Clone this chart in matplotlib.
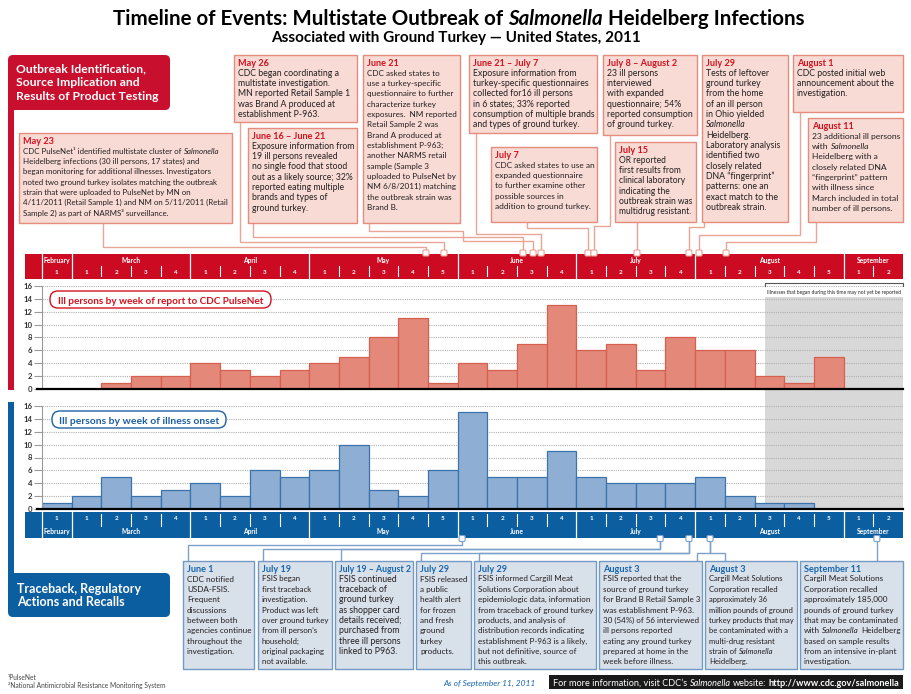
import matplotlib.pyplot as plt
from matplotlib.patches import Rectangle, FancyBboxPatch

W, H = 912, 694
BODY = ['Liberation Sans Narrow', 'Lato', 'DejaVu Sans']
HEAD = ['Lato', 'DejaVu Sans']
plt.rcParams['font.family'] = BODY

# ---- data -------------------------------------------------------------
months = ['February', 'March', 'April', 'May', 'June', 'July', 'August', 'September']
month_weeks = [1, 4, 4, 5, 4, 4, 5, 2]
reported = [0, 0, 1, 2, 2, 4, 3, 2, 3, 4, 5, 8, 11, 1, 4, 3, 7, 13, 6, 7, 3, 8, 6, 6, 2, 1, 5, 0, 0]
onset = [1, 2, 5, 2, 3, 4, 2, 6, 5, 6, 10, 3, 2, 6, 15, 5, 5, 9, 5, 4, 4, 4, 5, 2, 1, 1, 0, 0, 0]
unreported_from = 24.35  # week position where late reports start
y_ticks = list(range(0, 17, 2))

top_dates = ['May 23', 'May 26', 'June 16 – June 21', 'June 21', 'June 21 – July 7', 'July 7',
             'July 8 – August 2', 'July 15', 'July 29', 'August 1', 'August 11']
top_weeks = [12.93, 13.54, 16.20, 16.54, 16.81, 18.39, 18.59, 20.04, 21.79, 22.13, 23.04]
top_texts = [
    ['CDC PulseNet¹ identified multistate cluster of *Salmonella*',
     'Heidelberg infections (30 ill persons, 17 states) and',
     'began monitoring for additional illnesses. Investigators',
     'noted two ground turkey isolates matching the outbreak',
     'strain that were uploaded to PulseNet by MN on',
     '4/11/2011 (Retail Sample 1) and NM on 5/11/2011 (Retail',
     'Sample 2) as part of NARMS² surveillance.'],
    ['CDC began coordinating a', 'multistate investigation.', 'MN reported Retail Sample 1',
     'was Brand A produced at', 'establishment P-963.'],
    ['Exposure information from', '19 ill persons revealed', 'no single food that stood',
     'out as a likely source; 32%', 'reported eating multiple', 'brands and types of', 'ground turkey.'],
    ['CDC asked states to', 'use a turkey-specific', 'questionnaire to further', 'characterize turkey',
     'exposures.  NM reported', 'Retail Sample 2 was', 'Brand A produced at', 'establishment P-963;',
     'another NARMS retail', 'sample (Sample 3', 'uploaded to PulseNet by', 'NM 6/8/2011) matching',
     'the outbreak strain was', 'Brand B.'],
    ['Exposure information from', 'turkey-specific questionnaires', 'collected for16 ill persons',
     'in 6 states; 33% reported', 'consumption of multiple brands', 'and types of ground turkey.'],
    ['CDC asked states to use an', 'expanded questionnaire', 'to further examine other',
     'possible sources in', 'addition to ground turkey.'],
    ['23 ill persons', 'interviewed', 'with expanded', 'questionnaire; 54%', 'reported consumption',
     'of ground turkey.'],
    ['OR reported', 'first results from', 'clinical laboratory', 'indicating the',
     'outbreak strain was', 'multidrug resistant.'],
    ['Tests of leftover', 'ground turkey', 'from the home', 'of an ill person', 'in Ohio yielded',
     '*Salmonella*', 'Heidelberg.', 'Laboratory analysis', 'identified two', 'closely related',
     'DNA “fingerprint”', 'patterns: one an', 'exact match to the', 'outbreak strain.'],
    ['CDC posted initial web', 'announcement about the', 'investigation.'],
    ['23 additional ill persons', 'with *Salmonella*', 'Heidelberg with a', 'closely related DNA',
     '“fingerprint” pattern', 'with illness since', 'March included in total', 'number of ill persons.'],
]

bottom_dates = ['June 1', 'July 19', 'July 19 – August 2', 'July 29', 'July 29', 'August 3',
                'August 3', 'September 11']
bottom_weeks = [14.15, 20.82, 20.82, 21.79, 21.79, 22.50, 22.50, 28.12]
bottom_texts = [
    ['CDC notified', 'USDA-FSIS.', 'Frequent', 'discussions', 'between both', 'agencies continue',
     'throughout the', 'investigation.'],
    ['FSIS began', 'first traceback', 'investigation.', 'Product was left', 'over ground turkey',
     'from ill person’s', 'household;', 'original packaging', 'not available.'],
    ['FSIS continued', 'traceback of', 'ground turkey', 'as shopper card', 'details received;',
     'purchased from', 'three ill persons', 'linked to P963.'],
    ['FSIS released', 'a public', 'health alert', 'for frozen', 'and fresh', 'ground', 'turkey',
     'products.'],
    ['FSIS informed Cargill Meat', 'Solutions Corporation about', 'epidemiologic data, information',
     'from traceback of ground turkey', 'products, and analysis of', 'distribution records indicating',
     'establishment P-963 is a likely,', 'but not definitive, source of', 'this outbreak.'],
    ['FSIS reported that the', 'source of ground turkey', 'for Brand B Retail Sample 3',
     'was establishment P-963.', '30 (54%) of 56 interviewed', 'ill persons reported',
     'eating any ground turkey', 'prepared at home in the', 'week before illness.'],
    ['Cargill Meat Solutions', 'Corporation recalled', 'approximately 36', 'million pounds of ground',
     'turkey products that may', 'be contaminated with a', 'multi-drug resistant',
     'strain of *Salmonella*', 'Heidelberg.'],
    ['Cargill Meat Solutions', 'Corporation recalled', 'approximately 185,000',
     'pounds of ground turkey', 'that may be contaminated', 'with *Salmonella* Heidelberg',
     'based on sample results', 'from an intensive in-plant', 'investigation.'],
]

# ---- layout (pixels) --------------------------------------------------
top_boxes = [(19, 133, 232, 223), (234, 55, 357, 122), (248, 128, 357, 223), (363, 55, 460, 223),
             (469, 55, 597, 133), (491, 147, 597, 222), (603, 55, 697, 135), (615, 142, 696, 222),
             (702, 55, 788, 222), (793, 55, 903, 112), (808, 118, 903, 222)]
top_routes = [[(103, 223), (103, 247)], [(240, 122), (240, 242)], [(253, 223), (253, 237)],
              [(369, 223), (369, 231), (463, 231), (463, 241)], [(476, 133), (476, 234)],
              [(527, 222), (527, 228)], [(610, 135), (610, 226)], [(637, 222)],
              [(704, 222), (704, 227)], [(800, 112), (800, 235)], [(816, 222), (816, 242)]]
bottom_boxes = [(183, 561, 254, 669), (258, 561, 332, 669), (335, 561, 413, 669),
                (416, 561, 471, 669), (474, 561, 596, 669), (599, 561, 702, 669),
                (705, 561, 797, 669), (800, 561, 903, 669)]
bottom_routes = [[(188, 561), (188, 545)], [(263, 561), (263, 549)], [(341, 561), (341, 549)],
                 [(421, 561), (421, 553)], [(479, 561), (479, 553)], [(697, 561), (697, 553)],
                 [(725, 561), (725, 553)], [(877, 561)]]

RED = '#C8102E'
PINK, PINK_EDGE, PINK_LINE = '#F8DBD5', '#E58C7C', '#E9A496'
BLUE = '#0B5E9F'
BLUE_FILL, BLUE_EDGE, BLUE_LINE, BLUE_TXT = '#D8E0EA', '#7599C5', '#7DA0CB', '#1766AE'
INK = '#231F20'

X0, X1 = 42, 903
n = len(reported)


def px(w):
    return X0 + w * (X1 - X0) / n


fig = plt.figure(figsize=(W / 100, H / 100), dpi=100)


def full_axes(z):
    a = fig.add_axes([0, 0, 1, 1], zorder=z)
    a.set_xlim(0, W)
    a.set_ylim(H, 0)
    a.axis('off')
    return a


bg = full_axes(0)
R = fig.canvas.get_renderer()

# ---- text helpers -----------------------------------------------------
_cache = {}


def text_w(s, size, fam, italic, bold):
    key = (s, size, tuple(fam), italic, bold)
    if key not in _cache:
        t = bg.text(0, 0, s, fontsize=size, family=fam, style='italic' if italic else 'normal',
                    weight='bold' if bold else 'normal')
        _cache[key] = t.get_window_extent(R).width
        t.remove()
    return _cache[key]


def parse(line, weight):
    out, it, b, buf = [], False, weight == 'bold', ''
    for ch in line:
        if ch in '*^':
            if buf:
                out.append((buf, it, b))
                buf = ''
            if ch == '*':
                it = not it
            else:
                b = not b
        else:
            buf += ch
    if buf:
        out.append((buf, it, b))
    return out


def seg_parts(seg, size, fam, it, b):
    sp = text_w('a a', size, fam, it, b) - text_w('aa', size, fam, it, b)
    lead = len(seg) - len(seg.lstrip(' '))
    trail = len(seg) - len(seg.rstrip(' '))
    core = seg.strip(' ')
    return lead * sp, core, (text_w(core, size, fam, it, b) if core else 0), trail * sp


def measure(line, size, weight='normal', fam=BODY):
    tot = 0
    for seg, it, b in parse(line, weight):
        a, core, w, c = seg_parts(seg, size, fam, it, b)
        tot += a + w + c
    return tot


def draw(ax, x, y, line, size, color, weight='normal', fam=BODY, ha='left'):
    if ha == 'center':
        x -= measure(line, size, weight, fam) / 2
    for seg, it, b in parse(line, weight):
        a, core, w, c = seg_parts(seg, size, fam, it, b)
        x += a
        if core:
            ax.text(x, y, core, fontsize=size, family=fam, color=color, va='baseline',
                    style='italic' if it else 'normal', weight='bold' if b else 'normal')
        x += w + c


def fit(lines, maxw, size, weight='normal', fam=BODY):
    widest = max(measure(l, size, weight, fam) for l in lines)
    return size * maxw / widest if widest > maxw else size


# ---- grey "not yet reported" zone (under the charts) -----------------
bg.add_patch(Rectangle((px(unreported_from), 297), X1 - px(unreported_from), 212,
                       color='#D9D8D8', lw=0))


# ---- bar charts -------------------------------------------------------
def chart(top, bottom, values, face, edge):
    ax = fig.add_axes([X0 / W, 1 - bottom / H, (X1 - X0) / W, (bottom - top) / H], zorder=1)
    ax.patch.set_visible(False)
    ax.bar(range(n), values, width=1, align='edge', color=face, edgecolor=edge, lw=0.9, zorder=2)
    ax.set_xlim(0, n)
    ax.set_ylim(0, 16)
    for s in ['top', 'right', 'bottom']:
        ax.spines[s].set_visible(False)
    ax.spines['left'].set_color('#9A9A9A')
    ax.spines['left'].set_linewidth(0.8)
    ax.set_xticks([])
    ax.set_yticks(y_ticks)
    ax.tick_params(axis='y', length=6, width=0.8, color='#9A9A9A', pad=1, labelsize=5.6,
                   labelcolor='#333333')
    for lab in ax.get_yticklabels():
        lab.set_fontweight('bold')
    ax.grid(axis='y', color='#B0B0B0', lw=0.8, ls=(0, (1, 1)))
    ax.set_axisbelow(True)
    ax.axhline(0, xmin=-5 / (X1 - X0), xmax=1, color='black', lw=1.6, clip_on=False, zorder=5)
    return ax


chart(286, 389, reported, '#E4887A', '#D6604F')
chart(406, 509, onset, '#8EAED3', '#3B74AD')

ov = full_axes(2)

# ---- titles -----------------------------------------------------------
t1 = 'Timeline of Events: Multistate Outbreak of *Salmonella* Heidelberg Infections'
t2 = 'Associated with Ground Turkey — United States, 2011'
draw(ov, 459, 25, t1, fit([t1], 692, 15, 'bold', HEAD), 'black', 'bold', HEAD, 'center')
draw(ov, 456, 42, t2, fit([t2], 373, 11, 'bold', HEAD), 'black', 'bold', HEAD, 'center')

# ---- section headers --------------------------------------------------
ov.add_patch(Rectangle((8, 95), 6, 295, color=RED, lw=0))
ov.add_patch(FancyBboxPatch((8, 55), 162, 55, boxstyle='round,pad=0,rounding_size=5',
                            color=RED, lw=0))
h1 = ['Outbreak Identification,', 'Source Implication and', 'Results of Product Testing']
s = fit(h1, 142, 9, 'bold', HEAD)
for i, l in enumerate(h1):
    draw(ov, 16, 72 + 14 * i, l, s, 'white', 'bold', HEAD)

ov.add_patch(Rectangle((8, 402), 6, 180, color=BLUE, lw=0))
ov.add_patch(FancyBboxPatch((8, 573), 162, 44, boxstyle='round,pad=0,rounding_size=5',
                            color=BLUE, lw=0))
h2 = ['Traceback, Regulatory', 'Actions and Recalls']
s = fit(h2, 125, 9, 'bold', HEAD)
for i, l in enumerate(h2):
    draw(ov, 17, 593 + 12.5 * i, l, s, 'white', 'bold', HEAD)


# ---- timeline strips --------------------------------------------------
def strip(top, bot, color, weeks_first):
    ov.add_patch(Rectangle((25, top), X1 - 25, bot - top, color=color, lw=0))
    half = (bot - top) / 2
    wk_y = top + half * 0.5 if weeks_first else top + half * 1.5
    mo_y = top + half * 1.5 if weeks_first else top + half * 0.5
    tk = (top + 2, top + half + 1) if weeks_first else (top + half - 1, bot - 3)
    start = 0
    for m, k in zip(months, month_weeks):
        ov.plot([px(start)] * 2, [top, bot], color='white', lw=0.9)
        ms = fit([m], px(k) - px(0) - 3, 4.8, 'bold')
        ov.text(px(start + k / 2), mo_y, m, fontsize=ms, weight='bold', color='white',
                ha='center', va='center')
        for i in range(k):
            if i:
                ov.plot([px(start + i)] * 2, tk, color='white', lw=0.8)
            ov.text(px(start + i + 0.5), wk_y, str(i + 1), fontsize=4.6, weight='bold',
                    color='white', ha='center', va='center')
        start += k


strip(254, 279, '#CC0A22', False)
strip(512, 538, BLUE, True)


# ---- event boxes & connectors ----------------------------------------
def events(dates, weeks, texts, boxes, routes, fill, edge, line_c, date_c, mark_y):
    for d, w, lines, (l, t, r, b), route in zip(dates, weeks, texts, boxes, routes):
        mx = px(w)
        pts = route + [(mx, route[-1][1]), (mx, mark_y)]
        ov.plot([p[0] for p in pts], [p[1] for p in pts], color=line_c, lw=1, zorder=1,
                solid_joinstyle='miter')
        ov.add_patch(Rectangle((l, t), r - l, b - t, facecolor=fill, edgecolor=edge, lw=1,
                               zorder=2))
        s = fit(lines, r - l - 7, 6.3)
        draw(ov, l + 4, t + 10.5, d, fit([d], r - l - 6, 6.6, 'bold'), date_c, 'bold')
        for i, ln in enumerate(lines):
            draw(ov, l + 4, t + 20.5 + i * 10.35, ln, s, INK)
    for w in sorted(set(weeks)):
        ov.add_patch(FancyBboxPatch((px(w) - 3, mark_y - 3), 6, 6,
                                    boxstyle='round,pad=0,rounding_size=1.2',
                                    facecolor='white', edgecolor=line_c, lw=0.8, zorder=4))


events(top_dates, top_weeks, top_texts, top_boxes, top_routes, PINK, PINK_EDGE, PINK_LINE,
       '#D2121E', 253)
events(bottom_dates, bottom_weeks, bottom_texts, bottom_boxes, bottom_routes, BLUE_FILL,
       BLUE_EDGE, BLUE_LINE, BLUE_TXT, 538.5)

# ---- chart labels -----------------------------------------------------
for (l, t, r, b), label, col, base in [((50, 291, 271, 308), 'Ill persons by week of report to CDC PulseNet', '#D2121E', 303.5),
                                       ((52, 411, 226, 428), 'Ill persons by week of illness onset', '#1F5FA6', 423.5)]:
    ov.add_patch(FancyBboxPatch((l, t), r - l, b - t, boxstyle='round,pad=0,rounding_size=8',
                                facecolor='white', edgecolor=col, lw=1))
    draw(ov, (l + r) / 2, base, label, fit([label], r - l - 14, 9.5, 'bold'), col, 'bold',
         ha='center')

note = 'Illnesses that began during this time may not yet be reported'
gx = px(unreported_from)
ov.plot([gx, gx, X1, X1], [286, 283, 283, 286], color='#555555', lw=0.8)
draw(ov, gx + 2, 294, note, fit([note], X1 - gx - 4, 5.5), '#222222')

# ---- footer -----------------------------------------------------------
ov.text(8, 680, '¹PulseNet', fontsize=4.8, color='#444444')
ov.text(8, 688, '²National Antimicrobial Resistance Monitoring System', fontsize=4.8,
        color='#444444')
asof = '*As of September 11, 2011*'
draw(ov, 443, 686, asof, fit([asof], 93, 6.8), BLUE_TXT)
ov.add_patch(Rectangle((549, 675), X1 - 549, 14, color='#1A1A1A', lw=0))
foot = 'For more information, visit CDC’s *Salmonella* website: ^http://www.cdc.gov/salmonella^'
draw(ov, 553, 685.5, foot, fit([foot], 345, 7.2, fam=HEAD), 'white', fam=HEAD)

fig.savefig('out.png', dpi=100)
